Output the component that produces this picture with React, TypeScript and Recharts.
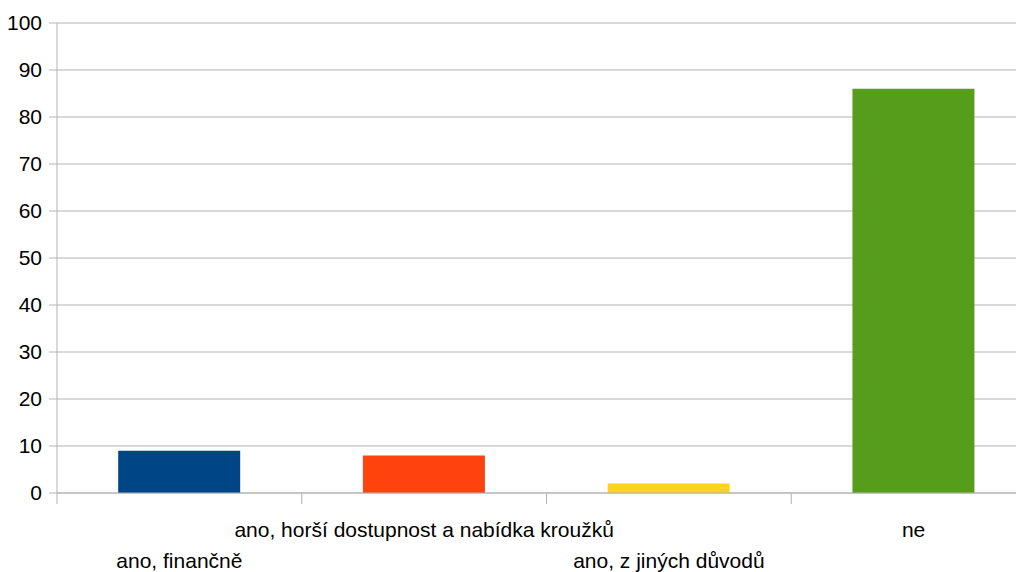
import React from 'react';
import { BarChart, Bar, XAxis, YAxis, CartesianGrid, Cell } from 'recharts';

const categories = [
  'ano, finančně',
  'ano, horší dostupnost a nabídka kroužků',
  'ano, z jiných důvodů',
  'ne',
];
const values = [9, 8, 2, 86];
const colors = ['#004586', '#ff420e', '#ffd320', '#579d1c'];
const yTicks = [0, 10, 20, 30, 40, 50, 60, 70, 80, 90, 100];

const data = categories.map((c, i) => ({ name: c, value: values[i] }));

const CHART_W = 1040;
const CHART_H = 564;
const M_TOP = 15;
const M_RIGHT = 12;
const Y_W = 49;
const X_H = 79;
const PLOT_BOTTOM = CHART_H - X_H;
const BAND = (CHART_W - Y_W - M_RIGHT) / categories.length;
const FONT = '"Liberation Sans", Arial, sans-serif';

const XTick = (props: any) => {
  const { x, payload, index } = props;
  const upper = index % 2 === 1;
  const left = x - BAND / 2;
  return (
    <g>
      <line x1={left} y1={PLOT_BOTTOM} x2={left} y2={PLOT_BOTTOM + 11} stroke="#b3b3b3" strokeWidth={1} />
      <text
        x={x}
        y={upper ? PLOT_BOTTOM + 44 : PLOT_BOTTOM + 75}
        textAnchor="middle"
        fontSize={21}
        fontFamily={FONT}
        fill="#000"
      >
        {payload.value}
      </text>
    </g>
  );
};

export default function App() {
  return (
    <div style={{ width: 1016, height: 564, overflow: 'hidden' }}>
      <BarChart
        width={CHART_W}
        height={CHART_H}
        data={data}
        margin={{ top: M_TOP, right: M_RIGHT, bottom: 0, left: 0 }}
        barCategoryGap="25%"
      >
        <CartesianGrid vertical={false} stroke="#b3b3b3" strokeWidth={1} />
        <XAxis
          dataKey="name"
          height={X_H}
          interval={0}
          tickLine={false}
          axisLine={{ stroke: '#b3b3b3' }}
          tick={<XTick />}
        />
        <YAxis
          width={Y_W}
          domain={[0, 100]}
          ticks={yTicks}
          interval={0}
          axisLine={{ stroke: '#b3b3b3' }}
          tickLine={{ stroke: '#b3b3b3' }}
          tickSize={8}
          tickMargin={7}
          tick={{ fontSize: 21, fontFamily: FONT, fill: '#000' }}
        />
        <Bar dataKey="value" isAnimationActive={false}>
          {data.map((d, i) => (
            <Cell key={d.name} fill={colors[i]} />
          ))}
        </Bar>
      </BarChart>
    </div>
  );
}
